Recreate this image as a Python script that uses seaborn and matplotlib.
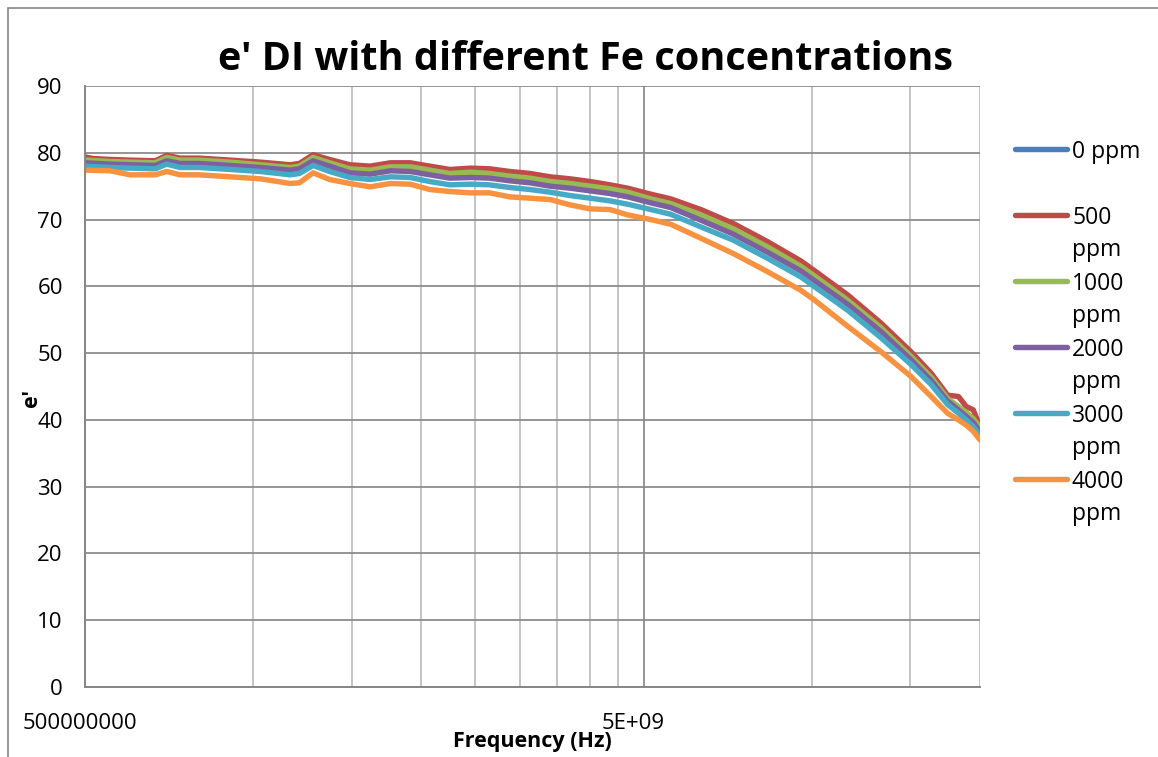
import numpy as np
import pandas as pd
import matplotlib
matplotlib.use("Agg")
import matplotlib.pyplot as plt
from matplotlib.lines import Line2D
from matplotlib.patches import Rectangle
import matplotlib.transforms as mtransforms
import seaborn as sns

# Frequency sweep (GHz)
freq_ghz = [0.500, 0.555, 0.602, 0.668, 0.700, 0.740, 0.800, 0.910, 1.030, 1.165,
            1.210, 1.280, 1.370, 1.490, 1.620, 1.760, 1.910, 2.070, 2.250, 2.450,
            2.650, 2.880, 3.130, 3.400, 3.690, 4.010, 4.350, 4.680, 5.150, 5.590,
            6.330, 7.240, 8.330, 9.560, 10.09, 11.60, 13.30, 15.05, 16.35, 17.50,
            18.30, 18.90, 19.45, 20.00]

# Real permittivity e' for each Fe concentration
e_0ppm = [79.4, 78.5, 78.4, 78.3, 79.0, 78.6, 78.6, 78.3, 78.0, 77.6,
          77.8, 79.0, 78.2, 77.3, 77.1, 77.6, 77.5, 77.0, 76.5, 76.7,
          76.5, 76.1, 75.8, 75.3, 75.0, 74.6, 74.2, 73.7, 72.8, 72.1,
          70.3, 68.2, 65.5, 62.7, 61.2, 57.6, 53.5, 49.3, 46.2, 43.0,
          41.8, 40.8, 39.9, 38.6]
e_500ppm = [79.2, 79.0, 78.9, 78.8, 79.6, 79.2, 79.2, 78.9, 78.6, 78.2,
            78.4, 79.7, 79.0, 78.2, 78.0, 78.5, 78.5, 78.0, 77.5, 77.7,
            77.6, 77.2, 76.9, 76.4, 76.1, 75.7, 75.2, 74.7, 73.8, 73.1,
            71.5, 69.4, 66.7, 63.8, 62.4, 58.7, 54.5, 50.2, 47.0, 43.7,
            43.5, 42.0, 41.5, 39.0]
e_1000ppm = [78.9, 78.7, 78.6, 78.5, 79.3, 78.9, 78.9, 78.6, 78.2, 77.8,
             78.0, 79.3, 78.5, 77.6, 77.4, 77.9, 77.9, 77.4, 76.9, 77.1,
             76.9, 76.5, 76.2, 75.7, 75.4, 75.0, 74.6, 74.1, 73.1, 72.4,
             70.7, 68.6, 65.9, 63.0, 61.6, 57.9, 53.8, 49.5, 46.4, 43.2,
             42.0, 41.1, 40.2, 38.9]
e_2000ppm = [78.5, 78.3, 78.2, 78.1, 78.8, 78.4, 78.4, 78.1, 77.8, 77.4,
             77.6, 78.8, 78.0, 77.0, 76.8, 77.3, 77.2, 76.7, 76.2, 76.3,
             76.2, 75.8, 75.5, 75.0, 74.7, 74.3, 73.9, 73.4, 72.5, 71.8,
             69.9, 67.8, 65.1, 62.3, 60.9, 57.3, 53.2, 49.0, 45.9, 42.8,
             41.5, 40.5, 39.6, 38.2]
e_3000ppm = [78.0, 77.8, 77.7, 77.6, 78.3, 77.8, 77.8, 77.5, 77.2, 76.7,
             76.9, 78.1, 77.2, 76.3, 76.0, 76.4, 76.3, 75.7, 75.2, 75.3,
             75.2, 74.8, 74.5, 74.1, 73.6, 73.2, 72.8, 72.3, 71.5, 70.8,
             68.9, 66.9, 64.2, 61.4, 60.0, 56.4, 52.3, 48.3, 45.3, 42.3,
             41.0, 40.0, 39.0, 37.7]
e_4000ppm = [77.4, 77.3, 76.7, 76.7, 77.2, 76.7, 76.7, 76.4, 76.1, 75.4,
             75.5, 77.0, 76.0, 75.4, 74.9, 75.4, 75.3, 74.5, 74.2, 74.0,
             74.0, 73.4, 73.2, 73.0, 72.2, 71.6, 71.5, 70.7, 70.0, 69.3,
             67.2, 64.9, 62.2, 59.4, 58.0, 54.0, 50.2, 46.5, 43.5, 41.0,
             40.0, 39.2, 38.3, 37.0]

series_names = ["0 ppm", "500 ppm", "1000 ppm", "2000 ppm", "3000 ppm", "4000 ppm"]
series_values = [e_0ppm, e_500ppm, e_1000ppm, e_2000ppm, e_3000ppm, e_4000ppm]
series_colors = ["#4A7EBB", "#BE4B48", "#98B954", "#7D60A0", "#46AAC5", "#F69240"]

x_tick_values = [5e8, 5e9]
x_tick_labels = ["500000000", "5E+09"]
y_ticks = list(range(0, 91, 10))

frames = []
for name, vals in zip(series_names, series_values):
    frames.append(pd.DataFrame({
        "Frequency (Hz)": np.array(freq_ghz) * 1e9,
        "e'": vals,
        "Concentration": name,
    }))
df = pd.concat(frames, ignore_index=True)

sns.set_theme(style="white")
plt.rcParams["font.family"] = ["Open Sans", "DejaVu Sans"]
plt.rcParams["text.color"] = "black"

W, H = 1158, 757
fig = plt.figure(figsize=(W / 100, H / 100), dpi=100)
ax = fig.add_axes([85 / W, (H - 687) / H, (980 - 85) / W, (687 - 86) / H])

sns.lineplot(data=df, x="Frequency (Hz)", y="e'", hue="Concentration",
             hue_order=series_names, palette=series_colors, estimator=None,
             sort=False, linewidth=3.9, legend=False, ax=ax,
             solid_capstyle="round", solid_joinstyle="round")

ax.set_xscale("log")
ax.set_xlim(5e8, 2e10)
ax.set_ylim(0, 90)

# log axis: majors per decade from 5e8, minors at multiples within each decade
minor_ticks = [k * 5e8 for k in range(2, 10)] + [k * 5e9 for k in range(2, 5)]
ax.set_xticks(x_tick_values)
ax.set_xticklabels(x_tick_labels)
ax.set_xticks(minor_ticks, minor=True)
ax.set_xticklabels([], minor=True)
ax.set_yticks(y_ticks)

ax.grid(False)
ax.grid(which="major", axis="y", color="#8c8c8c", linewidth=1.3)
ax.grid(which="major", axis="x", color="#8c8c8c", linewidth=1.3)
ax.grid(which="minor", axis="x", color="#bfbfbf", linewidth=1.3)
ax.set_axisbelow(True)

for side in ["top", "right"]:
    ax.spines[side].set_visible(False)
for side in ["left", "bottom"]:
    ax.spines[side].set_color("#868686")
    ax.spines[side].set_linewidth(1.4)

ax.tick_params(axis="both", which="major", direction="out", length=5,
               width=1.2, color="#868686", labelsize=16, labelcolor="black")
ax.tick_params(axis="y", pad=11)
ax.tick_params(axis="x", pad=14)
ax.tick_params(axis="x", which="minor", length=0)

# shift x tick labels slightly left
for lbl, dx in zip(ax.get_xticklabels(), [-5, -10]):
    lbl.set_transform(lbl.get_transform() +
                      mtransforms.ScaledTranslation(dx / 100, 0, fig.dpi_scale_trans))

ax.set_xlabel("")
ax.set_ylabel("")
fig.text(532 / W, 1 - 741 / H, "Frequency (Hz)", ha="center", va="center",
         fontsize=15.5, fontweight="bold", color="black")
fig.text(31 / W, 1 - 398 / H, "e'", ha="center", va="center", rotation=90,
         fontsize=15.5, fontweight="bold", color="black")
fig.text(585 / W, 1 - 60 / H, "e' DI with different Fe concentrations",
         ha="center", va="center", fontsize=28.5, fontweight="bold", color="black")

# legend with wrapped labels (value on the handle row, unit underneath)
legend_rows = [149, 215, 281, 347, 413, 479]
legend_first = ["0 ppm", "500", "1000", "2000", "3000", "4000"]
legend_second = ["", "ppm", "ppm", "ppm", "ppm", "ppm"]
for y, t1, t2, col in zip(legend_rows, legend_first, legend_second, series_colors):
    yy = 1 - y / H
    fig.add_artist(Line2D([1015 / W, 1067 / W], [yy, yy], color=col,
                          linewidth=3.9, solid_capstyle="round",
                          transform=fig.transFigure))
    fig.text(1072 / W, yy, t1, ha="left", va="center_baseline", fontsize=16.5,
             color="black")
    if t2:
        fig.text(1072 / W, 1 - (y + 32) / H, t2, ha="left",
                 va="center_baseline", fontsize=16.5, color="black")

# outer chart frame
fig.add_artist(Rectangle((8 / W, -0.02), 1.05, 1 - 7.5 / H + 0.02,
                         transform=fig.transFigure, fill=False,
                         edgecolor="#868686", linewidth=1.2))

fig.savefig("out.png", dpi=100, facecolor="white")
